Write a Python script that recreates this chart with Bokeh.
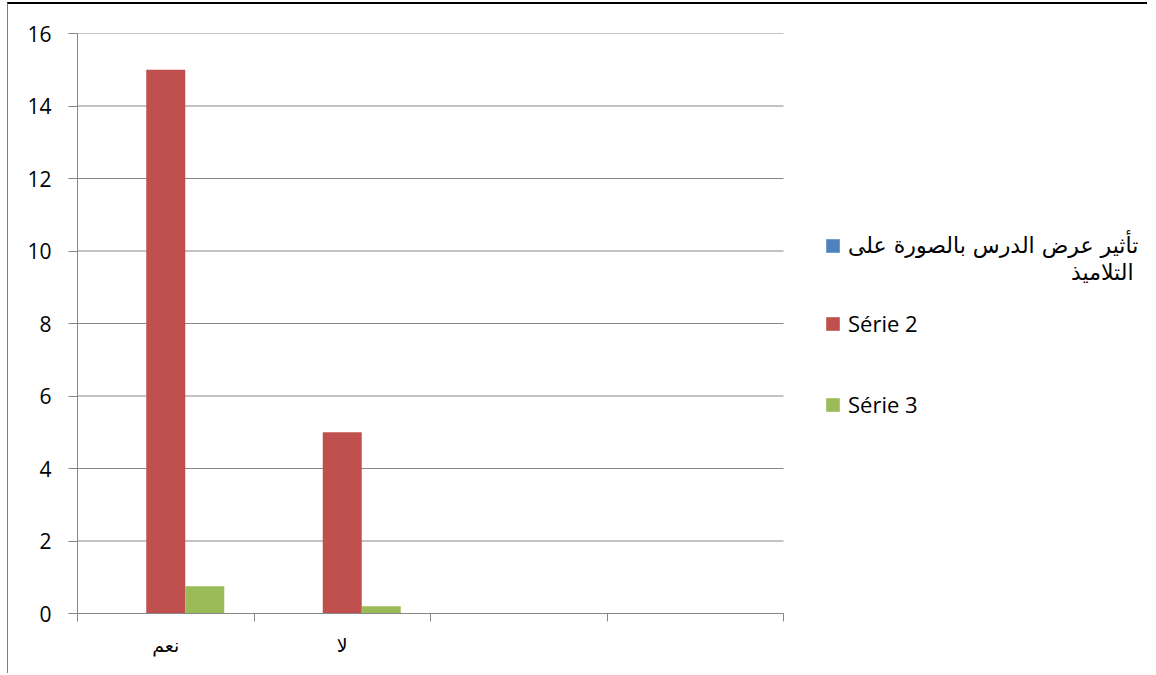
from bokeh.plotting import figure
from bokeh.models import Range1d, FixedTicker, Legend, LegendItem, Label
from bokeh.embed import file_html
from bokeh.resources import INLINE
import numpy as np

categories = ["نعم", "لا", "", ""]
series_names = ["تأثير عرض الدرس بالصورة على\nالتلاميذ", "Série 2", "Série 3"]
series1 = [0, 0, 0, 0]
series2 = [15, 5, 0, 0]
series3 = [0.75, 0.2, 0, 0]
colors = ["#4F81BD", "#C0504D", "#9BBB59"]
y_ticks = [0, 2, 4, 6, 8, 10, 12, 14, 16]

GRID = "#868686"
W, H = 1140, 671
LEFT, TOP, BOTTOM = 69, 29, 62
CHART_W = 706          # width of the category area in px
FRAME_W = W - LEFT     # frame extends under the legend area
x_end = len(categories) * FRAME_W / CHART_W

p = figure(width=W, height=H, min_border_left=LEFT, min_border_right=0,
           min_border_top=TOP, min_border_bottom=BOTTOM,
           x_range=Range1d(0, x_end), y_range=Range1d(0, 16),
           output_backend="svg", toolbar_location=None)
p.styles = {"margin-left": "7px", "margin-top": "2px",
            "border-top": "2px solid black", "border-left": "1px solid #7f7f7f"}
p.outline_line_color = None
p.background_fill_color = "white"
p.border_fill_color = "white"

# horizontal gridlines limited to the category area
n = len(categories)
p.segment(x0=[0] * len(y_ticks), x1=[n] * len(y_ticks), y0=y_ticks, y1=y_ticks,
          line_color=GRID, line_width=1, level="underlay")
p.xgrid.grid_line_color = None
p.ygrid.grid_line_color = None

idx = np.arange(n) + 0.5
bw = 0.221
offsets = [-bw, 0.0, bw]
renderers = []
for vals, off, col in zip([series1, series2, series3], offsets, colors):
    r = p.vbar(x=idx + off, top=vals, width=bw, fill_color=col, line_color=None)
    renderers.append(r)

# x axis: labels at category centres, ticks at boundaries
p.xaxis.bounds = (0, n)
p.xaxis.ticker = FixedTicker(ticks=list(idx), minor_ticks=list(range(n + 1)))
p.xaxis.major_label_overrides = {float(t): c for t, c in zip(idx, categories)}
p.xaxis.major_tick_line_color = None
p.xaxis.major_tick_out = 0
p.xaxis.major_tick_in = 0
p.xaxis.minor_tick_line_color = GRID
p.xaxis.minor_tick_out = 8
p.xaxis.minor_tick_in = 0
p.xaxis.axis_line_color = GRID
p.xaxis.major_label_text_font = "DejaVu Sans"
p.xaxis.major_label_text_font_size = "19px"
p.xaxis.major_label_text_color = "black"
p.xaxis.major_label_standoff = 12

p.yaxis.ticker = FixedTicker(ticks=y_ticks)
p.yaxis.minor_tick_line_color = None
p.yaxis.major_tick_line_color = GRID
p.yaxis.major_tick_out = 9
p.yaxis.major_tick_in = 0
p.yaxis.axis_line_color = GRID
p.yaxis.major_label_text_font = "Open Sans"
p.yaxis.major_label_text_font_size = "21px"
p.yaxis.major_label_text_color = "black"
p.yaxis.major_label_standoff = 17

# legend (each entry placed separately, to the right of the category area)
first_lines = [s.split("\n")[0] for s in series_names]
fonts = ["DejaVu Sans", "Open Sans", "Open Sans"]
sizes = ["22px", "22px", "22px"]
locs = [(747, 355), (747, 275), (747, 194)]
for name, r, f, s, loc in zip(first_lines, renderers, fonts, sizes, locs):
    lg = Legend(items=[LegendItem(label=name, renderers=[r])], location=loc,
                glyph_width=17, glyph_height=17, label_standoff=7, padding=0, margin=0,
                border_line_color=None, background_fill_alpha=0,
                label_text_font=f, label_text_font_size=s, label_text_color="black")
    p.add_layout(lg)

# wrapped second line of the first series name, right aligned like RTL text
p.add_layout(Label(x=1056, y=341, x_units="screen", y_units="screen",
                   text=series_names[0].split("\n")[1], text_align="right",
                   text_baseline="middle", text_font="DejaVu Sans",
                   text_font_size="22px", text_color="black"))

open("out.html", "w").write(file_html(p, INLINE))
